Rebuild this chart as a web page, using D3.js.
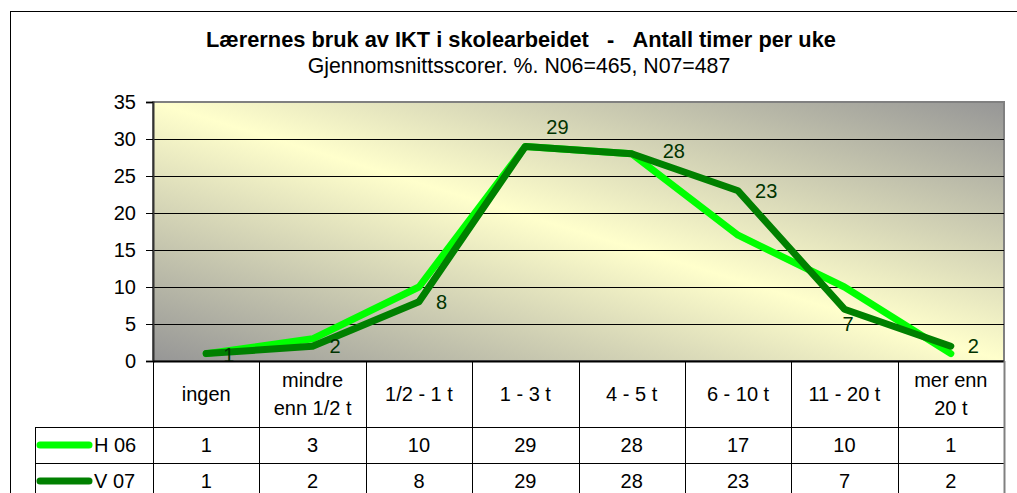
<!DOCTYPE html>
<html>
<head>
<meta charset="utf-8">
<script src="https://cdn.jsdelivr.net/npm/d3@7"></script>
<style>
  body { margin: 0; background: #fff; }
  svg { display: block; font-family: Arial, "Liberation Sans", sans-serif; }
</style>
</head>
<body>
<div id="chart"></div>
<script>
// data
var categories = ["ingen", "mindre\nenn 1/2 t", "1/2 - 1 t", "1 - 3 t", "4 - 5 t", "6 - 10 t", "11 - 20 t", "mer enn\n20 t"];
var seriesNames = ["H 06", "V 07"];
var h06 = [1, 3, 10, 29, 28, 17, 10, 1];
var v07 = [1, 2, 8, 29, 28, 23, 7, 2];
var yTicks = [0, 5, 10, 15, 20, 25, 30, 35];
// label nudges for the V 07 data labels (dx, dy from default spot)
var labelDx = [0, 0, 0, 4, 14, 0, -19, 0];
var labelDy = [1, 0, 0, -19, -3, 0, 15, 0];

function init() {
    var w = 1017, h = 493;
    var svg = d3.select("#chart").append("svg")
        .attr("width", w)
        .attr("height", h);

    // outer frame
    svg.append("rect")
        .attr("x", 10.5).attr("y", 11.5)
        .attr("width", 1030).attr("height", 520)
        .attr("fill", "none").attr("stroke", "#000");

    // titles
    svg.append("text")
        .attr("x", 521).attr("y", 47)
        .attr("text-anchor", "middle")
        .style("font-size", "21.8px").style("font-weight", "bold")
        .text("Lærernes bruk av IKT i skolearbeidet\u00a0\u00a0\u00a0-\u00a0\u00a0\u00a0Antall timer per uke");
    svg.append("text")
        .attr("x", 519).attr("y", 73)
        .attr("text-anchor", "middle")
        .style("font-size", "21.3px")
        .text("Gjennomsnittsscorer. %. N06=465, N07=487");

    var left = 153, right = 1004, top = 102, bottom = 361;

    var x = d3.scaleBand().domain(d3.range(categories.length)).range([left, right]);
    var y = d3.scaleLinear().domain([0, 35]).range([bottom, top]);

    // plot background gradient
    var defs = svg.append("defs");
    var grad = defs.append("linearGradient")
        .attr("id", "bg")
        .attr("x1", 0).attr("y1", 1).attr("x2", 1).attr("y2", 0);
    grad.append("stop").attr("offset", "0%").attr("stop-color", "#969696");
    grad.append("stop").attr("offset", "50%").attr("stop-color", "#ffffcc");
    grad.append("stop").attr("offset", "100%").attr("stop-color", "#969696");

    svg.append("rect")
        .attr("x", left).attr("y", top)
        .attr("width", right - left).attr("height", bottom - top)
        .attr("fill", "url(#bg)")
        .attr("stroke", "#808080").attr("stroke-width", 2);

    // gridlines
    svg.append("g").selectAll("line")
        .data(yTicks.filter(function (d) { return d > 0 && d < 35; }))
        .enter().append("line")
        .attr("x1", left).attr("x2", right)
        .attr("y1", function (d) { return Math.round(y(d)) + 0.5; })
        .attr("y2", function (d) { return Math.round(y(d)) + 0.5; })
        .attr("stroke", "#000");

    // y axis
    var yAxis = svg.append("g")
        .attr("transform", "translate(" + left + ",0)")
        .call(d3.axisLeft(y).tickValues(yTicks).tickSize(7).tickPadding(10));
    yAxis.select(".domain").attr("stroke", "#333").attr("stroke-width", 2);
    yAxis.selectAll(".tick line").attr("stroke", "#000");
    yAxis.selectAll("text").style("font-size", "20px").attr("fill", "#000")
        .style("font-family", "Arial, 'Liberation Sans', sans-serif");

    // lines
    var line = d3.line()
        .x(function (d, i) { return x(i) + x.bandwidth() / 2; })
        .y(function (d) { return y(d); });

    var colors = ["#00ff00", "#008000"];
    [h06, v07].forEach(function (s, k) {
        svg.append("path")
            .datum(s)
            .attr("d", line)
            .attr("fill", "none")
            .attr("stroke", colors[k])
            .attr("stroke-width", 7)
            .attr("stroke-linejoin", "round")
            .attr("stroke-linecap", "round");
    });

    // data labels for V 07
    svg.append("g").selectAll("text")
        .data(v07)
        .enter().append("text")
        .attr("x", function (d, i) { return x(i) + x.bandwidth() / 2 + 17 + labelDx[i]; })
        .attr("y", function (d, i) { return y(d) + labelDy[i]; })
        .attr("dy", "0.35em")
        .attr("fill", "#003300")
        .style("font-size", "20px")
        .text(function (d) { return d; });

    // data table
    var rowH = [bottom, 427, 463, 499];
    var tbl = svg.append("g");
    // horizontal lines
    tbl.append("line").attr("x1", left).attr("x2", right)
        .attr("y1", bottom + 0.5).attr("y2", bottom + 0.5).attr("stroke", "#000").attr("stroke-width", 2);
    [427, 463, 499].forEach(function (yy) {
        tbl.append("line").attr("x1", 35).attr("x2", right)
            .attr("y1", yy + 0.5).attr("y2", yy + 0.5).attr("stroke", "#000");
    });
    // vertical lines
    tbl.selectAll("line.v")
        .data(d3.range(categories.length + 1))
        .enter().append("line")
        .attr("class", "v")
        .attr("x1", function (i) { return Math.round(left + i * x.step()) + 0.5; })
        .attr("x2", function (i) { return Math.round(left + i * x.step()) + 0.5; })
        .attr("y1", bottom).attr("y2", 499)
        .attr("stroke", function (i) { return i === categories.length ? "#808080" : "#000"; })
        .attr("stroke-width", function (i) { return i === categories.length ? 2 : 1; });
    tbl.append("line").attr("x1", 35.5).attr("x2", 35.5)
        .attr("y1", 427).attr("y2", 499).attr("stroke", "#000");

    // header labels
    var head = tbl.selectAll("text.head")
        .data(categories)
        .enter().append("text")
        .attr("class", "head")
        .attr("text-anchor", "middle")
        .style("font-size", "20px")
        .attr("x", function (d, i) { return x(i) + x.bandwidth() / 2; });
    head.each(function (d) {
        var parts = d.split("\n");
        var el = d3.select(this);
        var y0 = 394 - (parts.length - 1) * 14;
        parts.forEach(function (p, j) {
            el.append("tspan")
                .attr("x", el.attr("x"))
                .attr("y", y0 + j * 28)
                .attr("dy", "0.35em")
                .text(p);
        });
    });

    // value rows
    [h06, v07].forEach(function (s, k) {
        var cy = (rowH[k + 1] + rowH[k + 2]) / 2;
        tbl.append("g").selectAll("text")
            .data(s)
            .enter().append("text")
            .attr("text-anchor", "middle")
            .attr("x", function (d, i) { return x(i) + x.bandwidth() / 2; })
            .attr("y", cy)
            .attr("dy", "0.35em")
            .style("font-size", "20px")
            .text(function (d) { return d; });
        // legend key
        tbl.append("line")
            .attr("x1", 40).attr("x2", 89)
            .attr("y1", cy).attr("y2", cy)
            .attr("stroke", colors[k]).attr("stroke-width", 7)
            .attr("stroke-linecap", "round");
        tbl.append("text")
            .attr("x", 94).attr("y", cy).attr("dy", "0.35em")
            .style("font-size", "20px")
            .text(seriesNames[k]);
    });
}
window.onload = init;
</script>
</body>
</html>
